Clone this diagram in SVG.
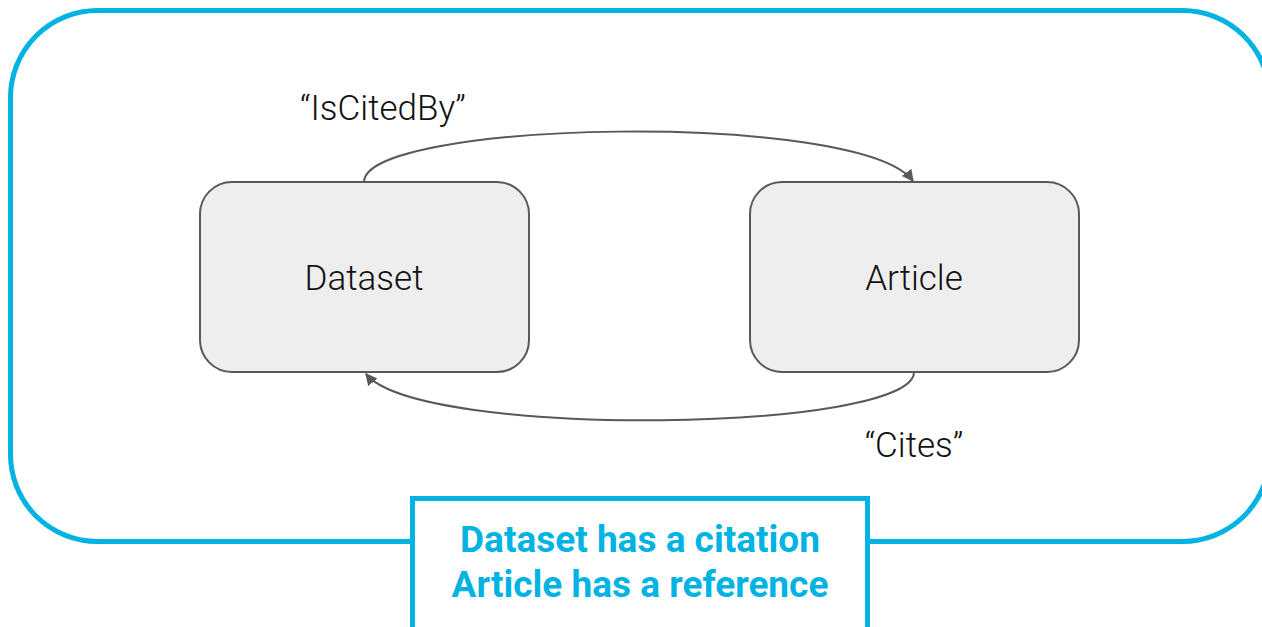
<svg xmlns="http://www.w3.org/2000/svg" width="1262" height="627" viewBox="0 0 1262 627">
  <style>
    .frame { fill: none; stroke: #00b3e3; stroke-width: 5; }
    .node rect { fill: #eeeeee; stroke: #595959; stroke-width: 2; }
    .label { font-family: Roboto, "Liberation Sans", sans-serif; font-size: 35px; font-weight: 300; fill: #111111; text-anchor: middle; }
    .edge { fill: none; stroke: #595959; stroke-width: 2; }
    .note { font-family: Roboto, "Liberation Sans", sans-serif; font-size: 37px; font-weight: bold; fill: #00b3e3; text-anchor: middle; }
  </style>
  <defs>
    <marker id="arrow" viewBox="0 0 10 10" refX="9" refY="5" markerWidth="6" markerHeight="6" orient="auto" markerUnits="strokeWidth">
      <path d="M0,0 L10,5 L0,10 z" fill="#595959"/>
    </marker>
  </defs>

  <rect width="1262" height="627" fill="#ffffff"/>

  <!-- outer frame -->
  <rect class="frame" x="10.5" y="10.5" width="1259" height="531" rx="87" ry="87"/>

  <g id="connectors">
    <path class="edge" d="M364,182 C364,120 860,110 913,181" marker-end="url(#arrow)"/>
    <text class="label" x="383" y="120">“IsCitedBy”</text>
    <path class="edge" d="M914,372 C914,432 420,440 366,374" marker-end="url(#arrow)"/>
    <text class="label" x="914" y="457">“Cites”</text>
  </g>

  <g id="dataset" class="node">
    <rect x="200" y="182" width="329" height="190" rx="32" ry="32"/>
    <text class="label" x="364" y="290">Dataset</text>
  </g>

  <g id="article" class="node">
    <rect x="750" y="182" width="329" height="190" rx="32" ry="32"/>
    <text class="label" x="914" y="290">Article</text>
  </g>

  <g id="summary">
    <rect x="412.5" y="498.5" width="455" height="140" fill="#ffffff" stroke="#00b3e3" stroke-width="5"/>
    <text class="note" x="640" y="552">Dataset has a citation</text>
    <text class="note" x="640" y="597">Article has a reference</text>
  </g>
</svg>
